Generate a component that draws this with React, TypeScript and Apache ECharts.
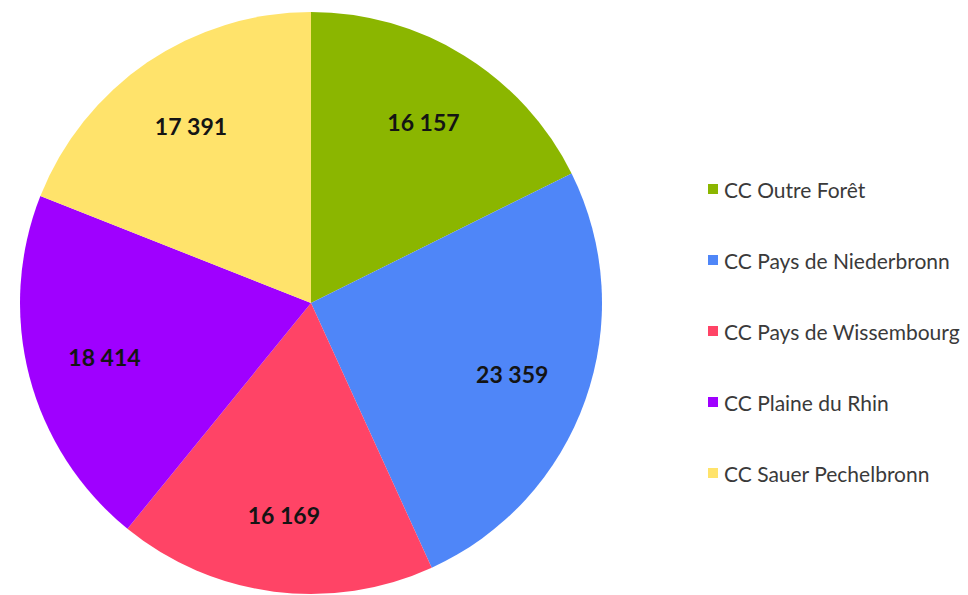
import React, { useEffect, useRef } from "react";
import * as echarts from "echarts";

const categories = [
  "CC Outre Forêt",
  "CC Pays de Niederbronn",
  "CC Pays de Wissembourg",
  "CC Plaine du Rhin",
  "CC Sauer Pechelbronn",
];
const values = [16157, 23359, 16169, 18414, 17391];
const colors = ["#8BB600", "#4F86F8", "#FF4466", "#9F00FF", "#FFE36B"];

const fmt = (v: number) => {
  const s = String(v);
  return s.replace(/\B(?=(\d{3})+(?!\d))/g, " ");
};

export default function App() {
  const ref = useRef<HTMLDivElement>(null);
  useEffect(() => {
    if (!ref.current) return;
    const chart = echarts.init(ref.current, undefined, { renderer: "svg" });
    const data = categories.map((name, i) => ({
      name,
      value: values[i],
      itemStyle: { color: colors[i] },
    }));
    chart.setOption({
      animation: false,
      backgroundColor: "#ffffff",
      legend: {
        orient: "vertical",
        left: 703,
        top: 173,
        itemWidth: 10,
        itemHeight: 10,
        itemGap: 49,
        icon: "rect",
        data: categories.map((name, i) => ({
          name,
          itemStyle: { color: colors[i] },
        })),
        textStyle: {
          fontFamily: "Lato",
          fontSize: 21,
          lineHeight: 22,
          color: "#3a3a3a",
          padding: [0, 0, 0, 1],
        },
        selectedMode: false,
      },
      series: [
        {
          type: "pie",
          center: [311, 303],
          radius: [0, 291],
          startAngle: 90,
          clockwise: true,
          data,
          label: { show: false },
          labelLine: { show: false },
          itemStyle: { borderWidth: 0 },
          silent: true,
        },
        {
          type: "pie",
          center: [311, 303],
          radius: [130, 291],
          startAngle: 90,
          clockwise: true,
          data: categories.map((name, i) => ({ name, value: values[i] })),
          itemStyle: { color: "rgba(0,0,0,0)", borderWidth: 0 },
          label: {
            show: true,
            position: "inside",
            formatter: (p: any) => fmt(p.value),
            fontFamily: "Lato",
            fontWeight: "bold",
            fontSize: 23,
            color: "#141414",
          },
          labelLine: { show: false },
          emphasis: { disabled: true },
          silent: true,
        },
      ],
    });
    return () => chart.dispose();
  }, []);
  return (
    <div
      ref={ref}
      style={{ position: "fixed", left: 0, top: 0, width: 968, height: 595 }}
    />
  );
}
